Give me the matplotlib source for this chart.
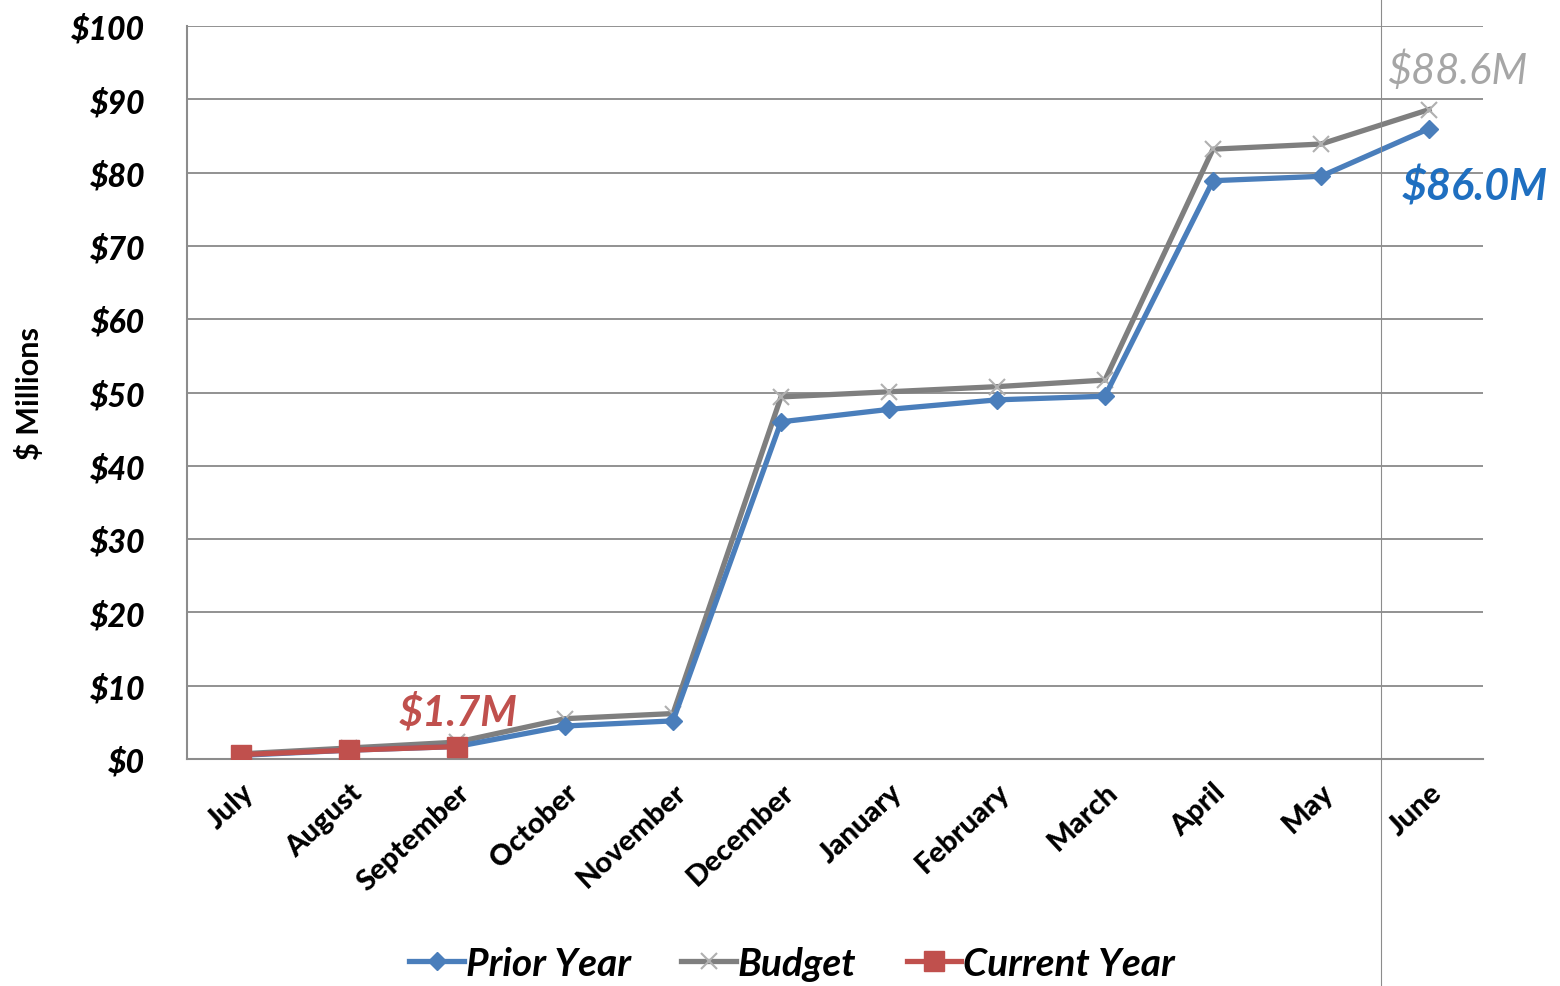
import matplotlib

matplotlib.use("Agg")
import matplotlib.pyplot as plt
from matplotlib.lines import Line2D

months = [
    "July", "August", "September", "October", "November", "December",
    "January", "February", "March", "April", "May", "June",
]
prior_year = [0.5, 1.2, 1.7, 4.5, 5.2, 46.0, 47.7, 49.0, 49.5, 78.9, 79.5, 86.0]
budget = [0.7, 1.5, 2.3, 5.5, 6.2, 49.4, 50.1, 50.8, 51.7, 83.2, 83.9, 88.6]
current_year = [0.6, 1.2, 1.7]
y_ticks = [0, 10, 20, 30, 40, 50, 60, 70, 80, 90, 100]

BLUE = "#4a7ebb"
GRAY = "#7f7f7f"
RED = "#c0504d"

plt.rcParams["font.family"] = ["Lato", "DejaVu Sans"]

fig = plt.figure(figsize=(15.6, 9.87), dpi=100)
ax = fig.add_axes([0.1199, 0.23, 0.8307, 0.7426])

x = range(len(months))
ax.plot(x, prior_year, color=BLUE, lw=3.8, marker="D", ms=9,
        mfc=BLUE, mec=BLUE, label="Prior Year", zorder=3)
ax.plot(x, budget, color=GRAY, lw=3.8, marker="x", ms=11, mew=1.5,
        mec="#b0b0b0", label="Budget", zorder=2)
ax.plot(range(len(current_year)), current_year, color=RED, lw=3.8,
        marker="s", ms=14, mfc=RED, mec=RED, label="Current Year", zorder=4)

ax.set_xlim(-0.5, len(months) - 0.5)
ax.set_ylim(0, 100)
ax.set_yticks(y_ticks)
ax.set_yticklabels([f"${v}" for v in y_ticks], fontsize=23,
                   fontweight="black", fontstyle="italic")
ax.set_xticks(list(x))
ax.set_xticklabels(months, rotation=43, ha="right", rotation_mode="anchor",
                   fontsize=21, fontweight="black")
ax.tick_params(axis="y", length=0, pad=30)
ax.tick_params(axis="x", length=0, pad=14)
ax.yaxis.grid(True, color="#7f7f7f", lw=1.2)
ax.set_axisbelow(True)
for side in ("top", "right"):
    ax.spines[side].set_visible(False)
for side in ("left", "bottom"):
    ax.spines[side].set_color("#8c8c8c")
    ax.spines[side].set_linewidth(1.5)

ax.set_ylabel("$ Millions", fontsize=22, fontweight="bold")
ax.yaxis.set_label_coords(-0.11, 0.5)

ax.annotate(f"${current_year[-1]:.1f}M", (2, current_year[-1]),
            xytext=(1, 16), textcoords="offset points", ha="center",
            fontsize=30, fontstyle="italic", fontweight="bold", color=RED)
ax.annotate(f"${budget[-1]:.1f}M", (11, budget[-1]),
            xytext=(20, 19), textcoords="offset points", ha="center",
            fontsize=30, fontstyle="italic", color="#a6a6a6")
ax.annotate(f"${prior_year[-1]:.1f}M", (11, prior_year[-1]),
            xytext=(33, -51), textcoords="offset points", ha="center",
            fontsize=31, fontstyle="italic", fontweight="bold", color="#1f6fc0")

fig.add_artist(Line2D([1381 / 1560, 1381 / 1560], [0, 1],
                      color="#8c8c8c", lw=0.8))

ax.legend(loc="lower center", bbox_to_anchor=(0.467, -0.35), ncol=3,
          frameon=False, handlelength=1.4, handletextpad=0.05,
          columnspacing=1.3,
          prop={"size": 28, "weight": "bold", "style": "italic"})

fig.savefig("out.png", dpi=100)
